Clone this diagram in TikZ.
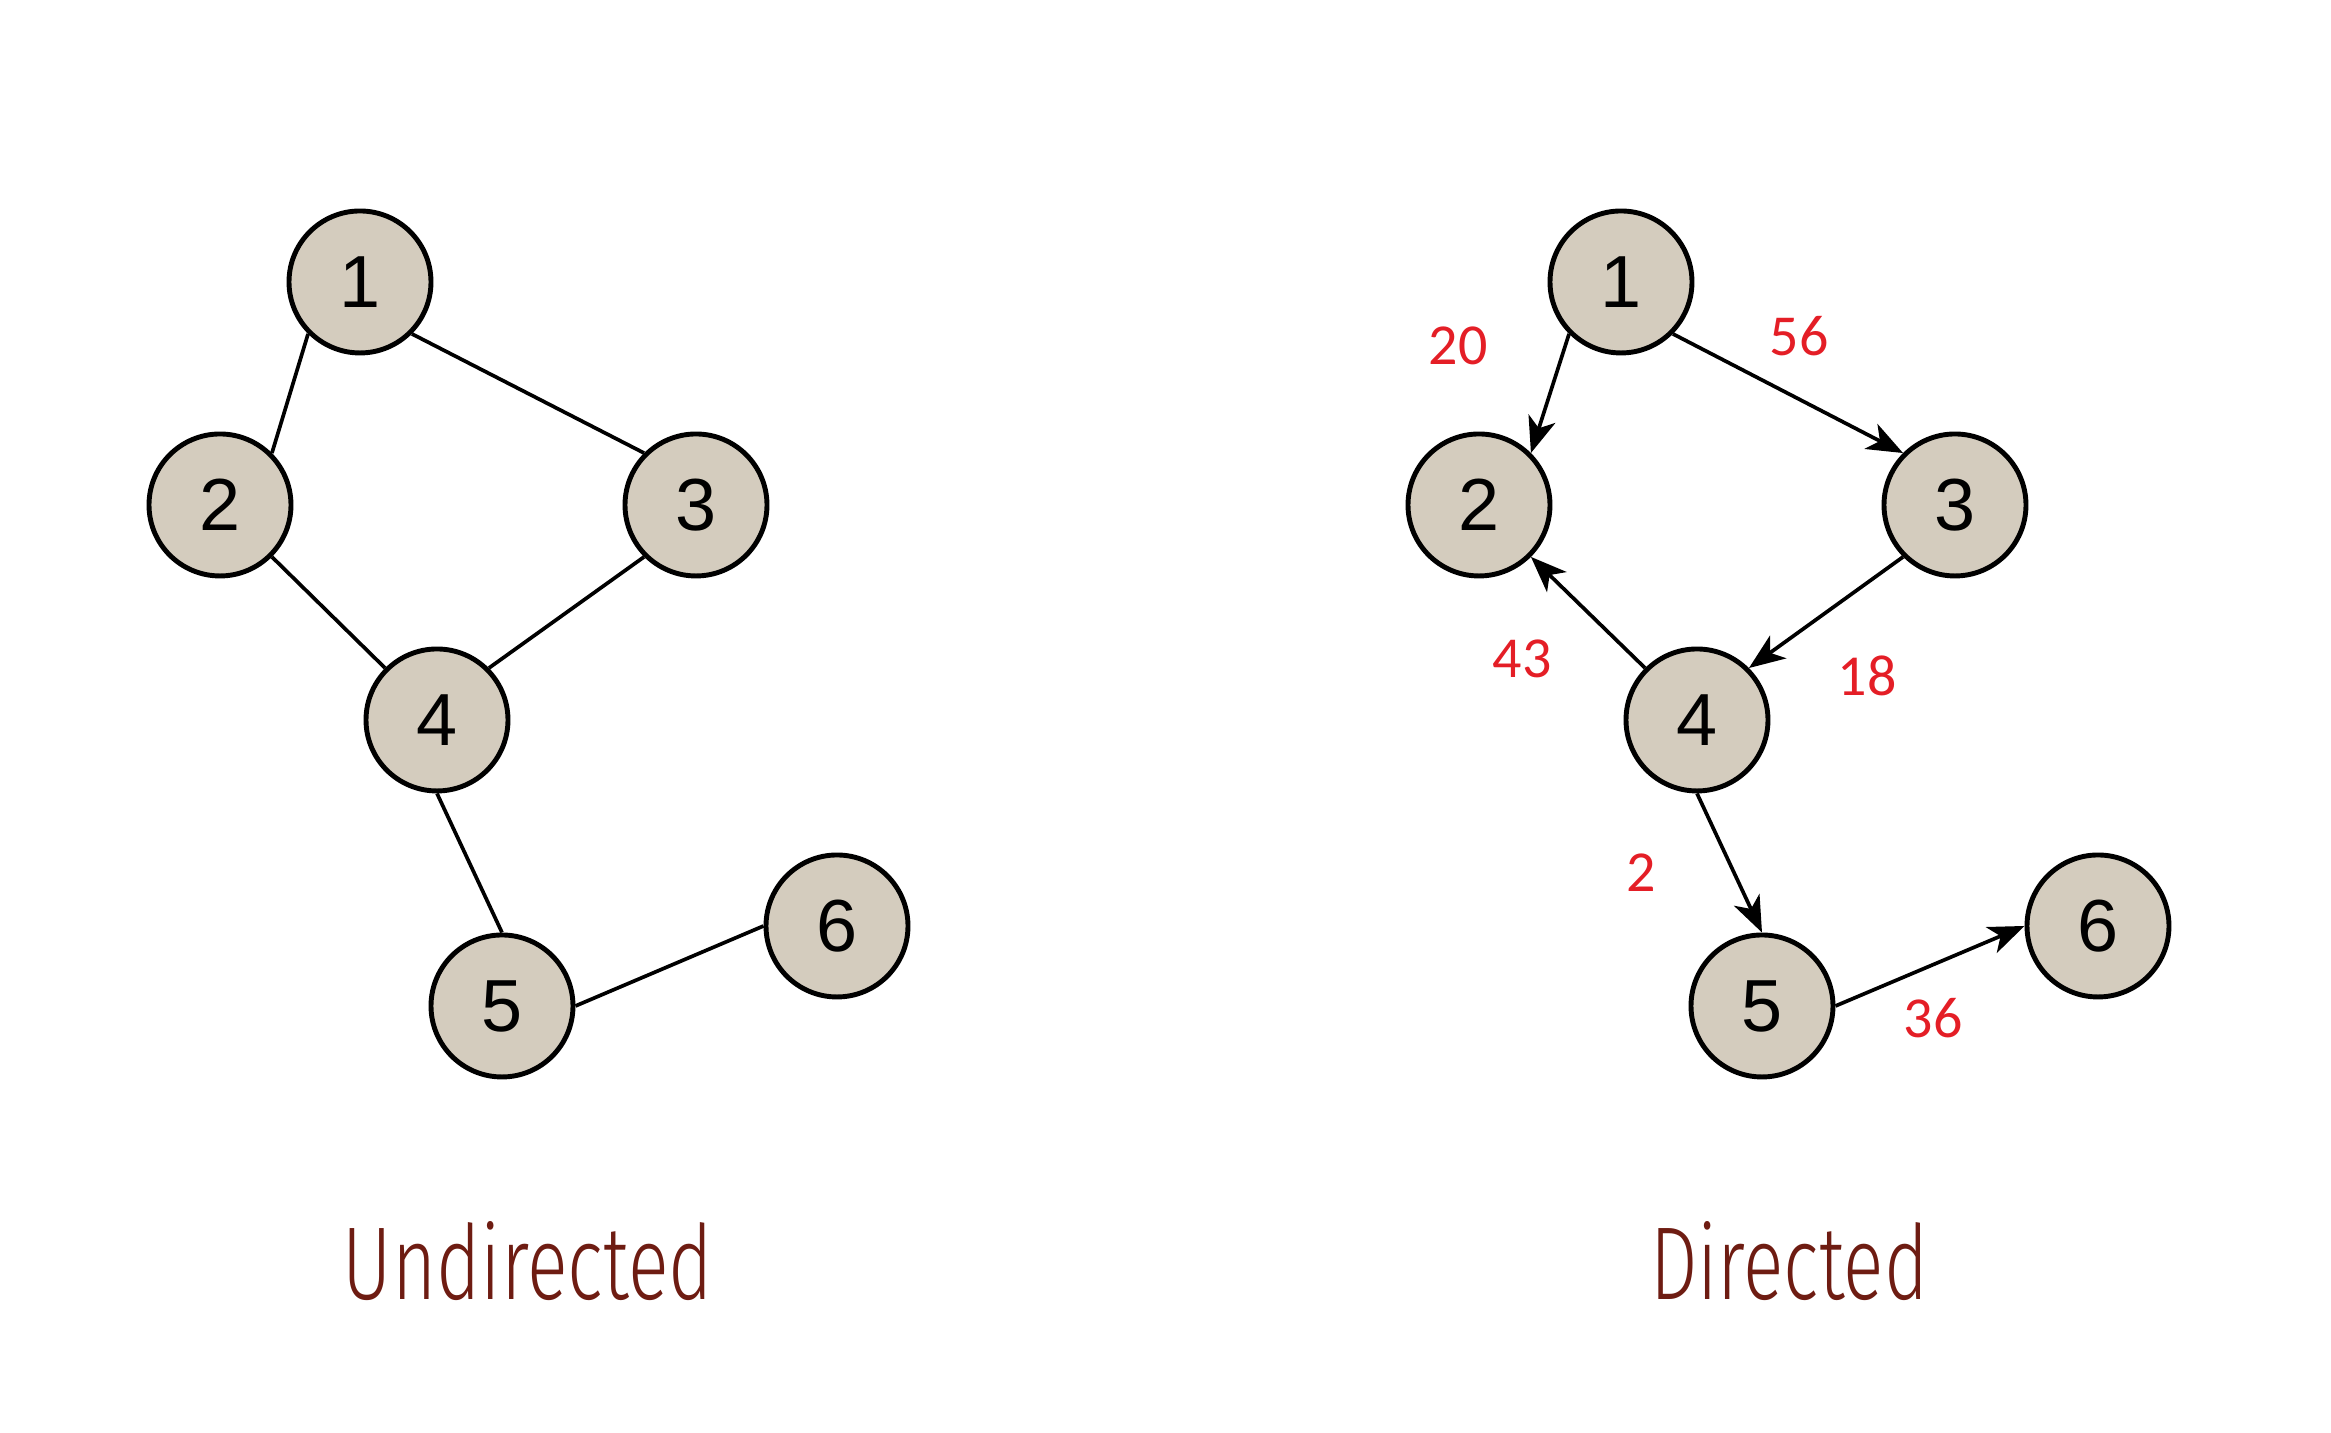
\documentclass[tikz,border=0pt]{standalone}
\usepackage{fontspec}
\setmainfont{Liberation Sans}
\newfontfamily\lblfont{Carlito}
\newfontfamily\ttlfont{Fira Sans Light}
\usetikzlibrary{arrows.meta}
\definecolor{nodefill}{RGB}{212,204,190}
\definecolor{lblred}{RGB}{228,30,38}
\definecolor{ttlbrown}{RGB}{110,28,18}
\tikzset{
  vtx/.style={circle,draw=black,fill=nodefill,line width=1.4pt,minimum size=1.42cm,inner sep=0pt,font=\fontsize{21}{21}\selectfont},
  edg/.style={line width=1.05pt,black},
  arc/.style={edg,-{Stealth[length=0.36cm,width=0.28cm,inset=0.1cm]}},
  wlbl/.style={text=lblred,font=\lblfont\fontsize{16.5}{16.5}\selectfont},
  ttl/.style={text=ttlbrown,anchor=base}
}
\begin{document}
\begin{tikzpicture}
\useasboundingbox (0,0) rectangle (23.31,14.33);
% left graph
\node[vtx] (a1) at (3.60,11.51) {1};
\node[vtx] (a2) at (2.20,9.28) {2};
\node[vtx] (a3) at (6.96,9.28) {3};
\node[vtx] (a4) at (4.37,7.13) {4};
\node[vtx] (a5) at (5.02,4.27) {5};
\node[vtx] (a6) at (8.37,5.07) {6};
\draw[edg] (a1.south west) -- (a2.north east);
\draw[edg] (a1.south east) -- (a3.north west);
\draw[edg] (a2.south east) -- (a4.north west);
\draw[edg] (a3.south west) -- (a4.north east);
\draw[edg] (a4.south) -- (a5.north);
\draw[edg] (a5.east) -- (a6.west);
% right graph
\node[vtx] (b1) at (16.21,11.51) {1};
\node[vtx] (b2) at (14.79,9.28) {2};
\node[vtx] (b3) at (19.55,9.28) {3};
\node[vtx] (b4) at (16.97,7.13) {4};
\node[vtx] (b5) at (17.62,4.27) {5};
\node[vtx] (b6) at (20.98,5.07) {6};
\draw[arc] (b1.south west) -- (b2.north east);
\draw[arc] (b1.south east) -- (b3.north west);
\draw[arc] (b4.north west) -- (b2.south east);
\draw[arc] (b3.south west) -- (b4.north east);
\draw[arc] (b4.south) -- (b5.north);
\draw[arc] (b5.east) -- (b6.west);
% weights
\node[wlbl] (w12) at (14.58,10.87) {20};
\node[wlbl] (w13) at (17.99,10.97) {56};
\node[wlbl] (w42) at (15.22,7.74) {43};
\node[wlbl] (w34) at (18.67,7.57) {18};
\node[wlbl] (w45) at (16.41,5.60) {2};
\node[wlbl] (w56) at (19.33,4.15) {36};
% titles
\node[ttl] (t1) at (5.28,1.33) {\resizebox{3.70cm}{0.78cm}{\ttlfont Undirected}};
\node[ttl] (t2) at (17.89,1.33) {\resizebox{2.78cm}{0.78cm}{\ttlfont Directed}};
\end{tikzpicture}
\end{document}
